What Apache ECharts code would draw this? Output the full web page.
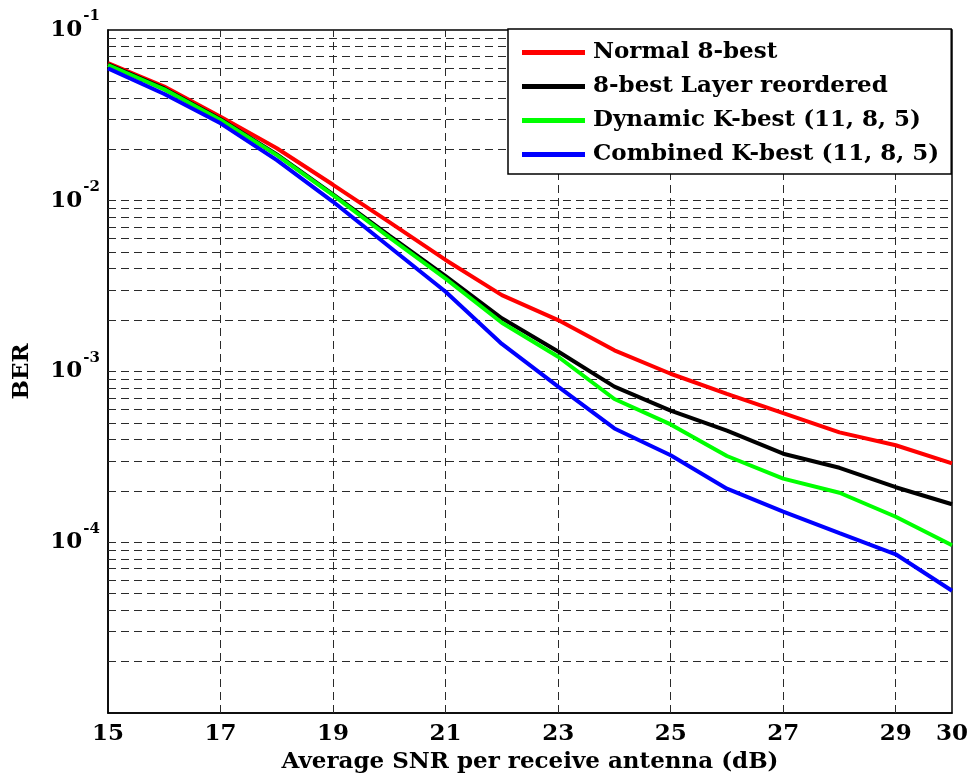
<!DOCTYPE html>
<html>
<head>
<meta charset="utf-8">
<script src="https://cdn.jsdelivr.net/npm/echarts@6/dist/echarts.min.js"></script>
<style>html,body{margin:0;padding:0;background:#fff;}#c{width:969px;height:776px;}</style>
</head>
<body>
<div id="c"></div>
<script>
const snr = [15,16,17,18,19,20,21,22,23,24,25,26,27,28,29,30];
const seriesNames = ['Normal 8-best','8-best Layer reordered','Dynamic K-best (11, 8, 5)','Combined K-best (11, 8, 5)'];
const normal8 = [6.4e-2,4.66e-2,3.1e-2,2.03e-2,1.24e-2,7.5e-3,4.5e-3,2.8e-3,2.0e-3,1.33e-3,9.7e-4,7.4e-4,5.7e-4,4.4e-4,3.7e-4,2.9e-4];
const layerReordered = [6.3e-2,4.55e-2,3.0e-2,1.87e-2,1.09e-2,6.25e-3,3.62e-3,2.05e-3,1.31e-3,8.15e-4,5.9e-4,4.5e-4,3.3e-4,2.73e-4,2.1e-4,1.67e-4];
const dynamicK = [6.24e-2,4.49e-2,2.97e-2,1.85e-2,1.08e-2,6.1e-3,3.5e-3,1.93e-3,1.22e-3,6.9e-4,4.9e-4,3.2e-4,2.36e-4,1.95e-4,1.41e-4,9.6e-5];
const combinedK = [5.96e-2,4.22e-2,2.84e-2,1.73e-2,9.86e-3,5.38e-3,2.93e-3,1.45e-3,8.15e-4,4.64e-4,3.23e-4,2.06e-4,1.51e-4,1.13e-4,8.5e-5,5.2e-5];
const seriesColors = ['#ff0000','#000000','#00ff00','#0000ff'];
const xTickLabels = [15,17,19,21,23,25,27,29,30];
const xGridLines = [17,19,21,23,25,27,29];
const yGridLines = [
  2e-5,3e-5,4e-5,5e-5,6e-5,7e-5,8e-5,9e-5,1e-4,
  2e-4,3e-4,4e-4,5e-4,6e-4,7e-4,8e-4,9e-4,1e-3,
  2e-3,3e-3,4e-3,5e-3,6e-3,7e-3,8e-3,9e-3,1e-2,
  2e-2,3e-2,4e-2,5e-2,6e-2,7e-2,8e-2,9e-2
];
const yLabelExponents = [-1,-2,-3,-4];

const FONT = 'DejaVu Serif';
const chart = echarts.init(document.getElementById('c'));
const allData = [normal8, layerReordered, dynamicK, combinedK];
const gridLineStyle = {type:[8,5], color:'#2a2a2a', width:1};
const series = [{
  type:'line', data:[], silent:true, z:1,
  markLine:{
    silent:true, symbol:['none','none'], animation:false, precision:12, z:1,
    label:{show:false}, lineStyle:gridLineStyle, emphasis:{disabled:true},
    data: xGridLines.map(v=>({xAxis:v})).concat(yGridLines.map(v=>({yAxis:v})))
  }
}];
allData.forEach((d,i)=>{
  series.push({
    name: seriesNames[i], type:'line', symbol:'none', z:3,
    data: snr.map((x,j)=>[x,d[j]]),
    lineStyle:{color:seriesColors[i], width:4},
    itemStyle:{color:seriesColors[i]},
    animation:false
  });
});
chart.setOption({
  backgroundColor:'#fff',
  animation:false,
  grid:{left:108, right:17, top:30, bottom:63, outerBoundsMode:'none', containLabel:false,
        show:true, borderColor:'#000', borderWidth:1.5, backgroundColor:'transparent'},
  legend:{
    data: seriesNames, orient:'vertical', left:508, top:29, z:10,
    backgroundColor:'#fff', borderColor:'#000', borderWidth:1.5,
    padding:[12,12,8,14], itemGap:11, itemWidth:63, itemHeight:5, icon:'rect',
    textStyle:{fontFamily:FONT, fontWeight:'bold', fontSize:23, color:'#000', padding:[0,0,0,3]}
  },
  xAxis:{
    type:'value', min:15, max:30, interval:1,
    name:'Average SNR per receive antenna (dB)', nameLocation:'middle', nameGap:38,
    nameTextStyle:{fontFamily:FONT, fontWeight:'bold', fontSize:23, color:'#000'},
    axisLine:{lineStyle:{color:'#000', width:1.5}},
    axisTick:{show:false}, splitLine:{show:false},
    axisLabel:{
      margin:10, fontFamily:FONT, fontWeight:'bold', fontSize:23, color:'#000',
      formatter: v => xTickLabels.indexOf(v) >= 0 ? String(v) : ''
    }
  },
  yAxis:{
    type:'log', logBase:10, min:1e-5, max:1e-1,
    name:'BER', nameLocation:'middle', nameGap:74,
    nameTextStyle:{fontFamily:FONT, fontWeight:'bold', fontSize:23, color:'#000'},
    axisLine:{lineStyle:{color:'#000', width:1.5}},
    axisTick:{show:false}, splitLine:{show:false}, minorTick:{show:false}, minorSplitLine:{show:false},
    axisLabel:{
      margin:8, color:'#000',
      formatter: v => {
        const e = Math.round(Math.log10(v));
        return yLabelExponents.indexOf(e) >= 0 ? '{b|10}{s|' + e + '}' : '';
      },
      rich:{
        b:{fontFamily:FONT, fontWeight:'bold', fontSize:23, lineHeight:24, verticalAlign:'middle', color:'#000'},
        s:{fontFamily:FONT, fontWeight:'bold', fontSize:15, lineHeight:16, padding:[0,0,27,1], verticalAlign:'middle', color:'#000'}
      }
    }
  },
  series: series
});
</script>
</body>
</html>
